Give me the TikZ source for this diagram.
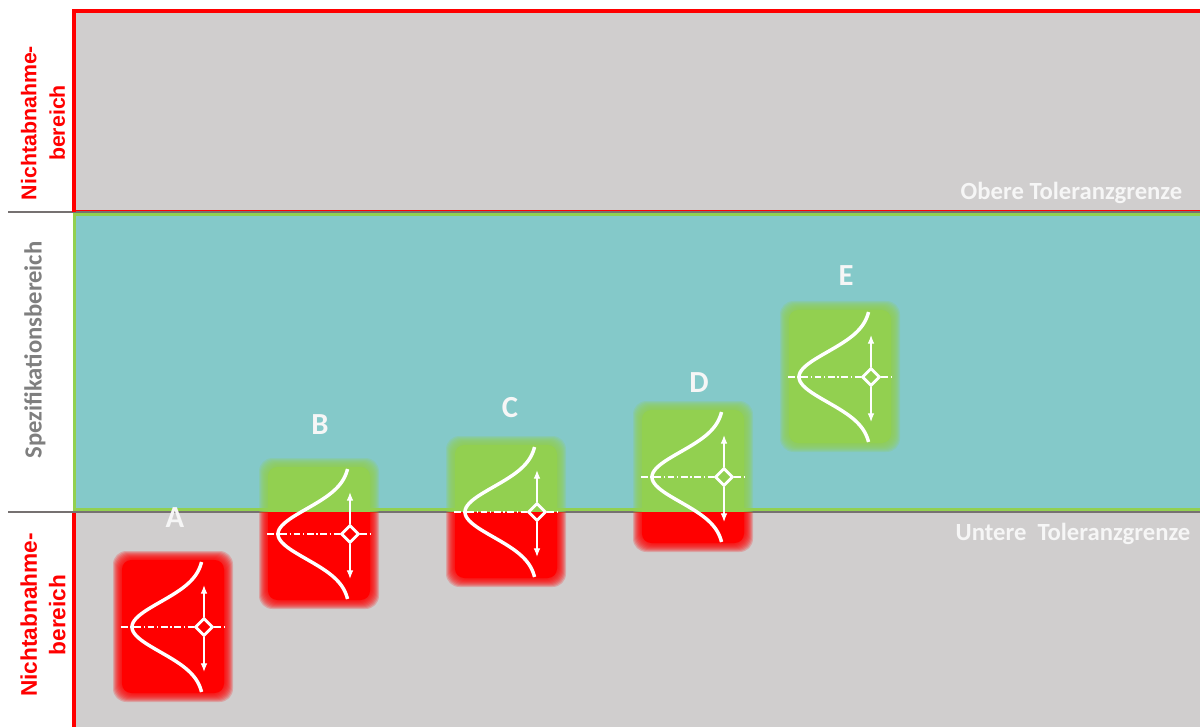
\documentclass[tikz,border=0pt]{standalone}
\usepackage{fontspec}
\setmainfont{Carlito}
\newfontfamily\arialbold{Liberation Sans}
\usepackage{xcolor}
\usepackage{tikz}
\usetikzlibrary{shapes.geometric,arrows.meta}
\definecolor{zonegray}{HTML}{D0CECE}
\definecolor{specteal}{HTML}{84C9C9}
\definecolor{okgreen}{HTML}{92D050}
\definecolor{badred}{HTML}{FF0000}
\definecolor{rulegray}{HTML}{767171}
\definecolor{labelgray}{HTML}{7F7F7F}
\definecolor{softwhite}{HTML}{F6F6F6}

% soft-edged box around a distribution, given the mean marker position
\newcommand{\softbox}[3]{%
  \foreach \dd in {4,...,-5}{%
    \fill[#3, opacity=0.2, rounded corners=10pt] (#1-87-\dd,#2-72-\dd) rectangle (#1+25+\dd,#2+71+\dd);}%
  \fill[#3, rounded corners=7pt] (#1-87+5,#2-72+5) rectangle (#1+25-5,#2+71-5);%
}
% bell curve, mean line, spread arrows
\newcommand{\distglyph}[3]{%
  \draw[bellcurve] plot[domain=-65:65, samples=61] ({#2-72*exp(-(\x*\x)/1250)}, {#3+\x});%
  \node[meanmark] (m#1) at (#2,#3) {};%
  \coordinate (t#1) at (#2,#3-42);%
  \coordinate (b#1) at (#2,#3+45);%
  \coordinate (l#1) at (#2-83,#3);%
  \coordinate (r#1) at (#2+20,#3);%
  \draw[spread] (m#1.north) -- (t#1);%
  \draw[spread] (m#1.south) -- (b#1);%
  \draw[meanline] (l#1) -- (m#1.west);%
  \draw[meanline] (m#1.east) -- (r#1);%
}

\begin{document}
\begin{tikzpicture}[x=0.75pt, y=-0.75pt,
  bellcurve/.style={white, line width=2.6pt},
  meanmark/.style={draw=white, shape=diamond, line width=2.1pt, minimum width=13.5pt, minimum height=13.5pt, inner sep=0pt},
  spread/.style={white, line width=0.9pt, -{Latex[length=6.5pt,width=5pt]}},
  meanline/.style={white, line width=0.9pt, dash pattern=on 5pt off 2pt on 1pt off 2pt},
  zonelabel/.style={rotate=90, align=center, font=\arialbold\bfseries\fontsize{16}{21.5}\selectfont},
  speclabel/.style={rotate=90, font=\bfseries\fontsize{18.5}{22}\selectfont},
  limitlabel/.style={anchor=east, text=softwhite, font=\bfseries\fontsize{18.5}{22}\selectfont},
  caseletter/.style={text=softwhite, font=\bfseries\fontsize{23}{26}\selectfont}]
\useasboundingbox (0,0) rectangle (1200,727);%
\fill[white] (0,0) rectangle (1200,727);%
% zones
\fill[zonegray] (73,11) rectangle (1200,212);%
\fill[specteal] (73,212) rectangle (1200,512);%
\fill[zonegray] (73,512) rectangle (1200,727);%
\draw[okgreen, line width=1.6pt] (1200,214.5) -- (74.5,214.5) -- (74.5,509.5) -- (1200,509.5);%
\draw[rulegray, line width=1.5pt] (8,212) -- (1200,212);%
\draw[rulegray, line width=1.5pt] (8,512) -- (1200,512);%
\draw[badred, line width=0.8pt] (74,210.5) -- (1200,210.5);%
\draw[badred, line width=3pt] (74,212) -- (74,11) -- (1200,11);%
\draw[badred, line width=3pt] (74,513) -- (74,727);%
% zone labels
\node[zonelabel, text=badred] (upperzone) at (43,123) {Nichtabnahme-\\bereich};%
\node[speclabel, text=labelgray] (speczone) at (35,350) {Spezifikationsbereich};%
\node[zonelabel, text=badred, font=\arialbold\bfseries\fontsize{17}{21.5}\selectfont] (lowerzone) at (43,615) {Nichtabnahme-\\bereich};%
\node[limitlabel] (upperlimit) at (1187,193) {Obere Toleranzgrenze};%
\node[limitlabel] (lowerlimit) at (1195,534) {Untere\ \ Toleranzgrenze};%
% boxes
\softbox{204}{627}{badred}%
\begin{scope}\clip (0,0) rectangle (1200,512);%
\softbox{350}{534}{okgreen}%
\softbox{537}{512}{okgreen}%
\softbox{724}{477}{okgreen}%
\softbox{871}{377}{okgreen}%
\end{scope}%
\begin{scope}\clip (0,512) rectangle (1200,727);%
\softbox{350}{534}{badred}%
\softbox{537}{512}{badred}%
\softbox{724}{477}{badred}%
\end{scope}%
% distributions
\distglyph{A}{204}{627}%
\distglyph{B}{350}{534}%
\distglyph{C}{537}{512}%
\distglyph{D}{724}{477}%
\distglyph{E}{871}{377}%
\node[caseletter] (labA) at (175,518) {A};%
\node[caseletter] (labB) at (320,425) {B};%
\node[caseletter] (labC) at (510,408) {C};%
\node[caseletter] (labD) at (699,383) {D};%
\node[caseletter] (labE) at (846,276) {E};%
\end{tikzpicture}
\end{document}
